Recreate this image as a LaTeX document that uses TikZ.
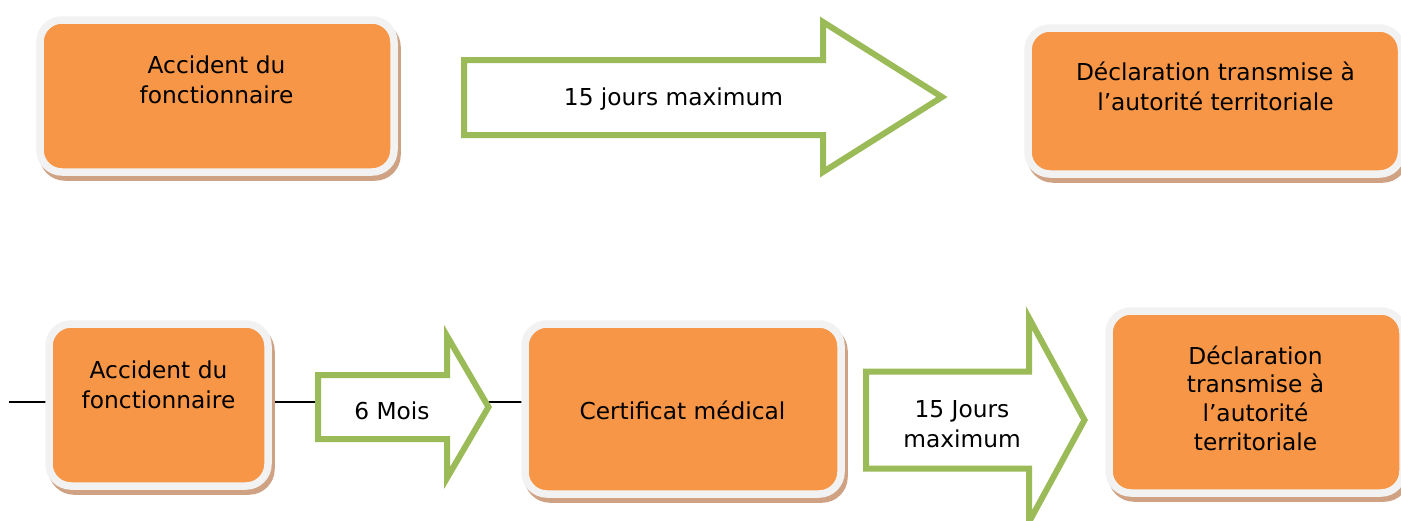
\documentclass[tikz,border=0pt]{standalone}
\usepackage{fontspec}
\setmainfont{DejaVu Sans}
\usetikzlibrary{backgrounds}
\definecolor{boxorange}{HTML}{F79646}
\definecolor{framegray}{HTML}{F2F2F2}
\definecolor{shadowtan}{RGB}{208,162,132}
\definecolor{arrowgreen}{HTML}{9BBB59}
\newcommand\txtfont{\fontsize{23.3}{30}\selectfont}
\newcommand\txtfontb{\fontsize{23.3}{28.7}\selectfont}
\newcommand\lines[1]{\begin{tabular}[t]{@{}c@{}}#1\end{tabular}}
\begin{document}
\begin{tikzpicture}[x=1pt,y=-1pt,
  panel/.style={draw=framegray, line width=7.5pt, fill=boxorange,
    rounded corners=22pt, inner sep=0pt, outer sep=0pt,
    preaction={draw=shadowtan, fill=shadowtan, line width=7.5pt,
      transform canvas={shift={(3pt,-5pt)}}}},
  bigarrow/.style={draw=arrowgreen, line width=6pt, fill=white, line join=miter},
  label/.style={font=\txtfont, text=black, anchor=base, inner sep=0pt},
  connector/.style={draw=black, line width=1.4pt}]

\useasboundingbox (0,0) rectangle (1401,520);
\begin{pgfonlayer}{background}
  \fill[white] (0,0) rectangle (1401,520);
\end{pgfonlayer}

% top row
\node[panel, minimum width=354pt, minimum height=152pt] (b1) at (217,96) {};
\node[label] (t1) at (216.5,73) {\lines{Accident du\\fonctionnaire}};

\draw[bigarrow] (464,60) -- (823,60) -- (823,22) -- (942,97) -- (823,172) -- (823,135) -- (464,135) -- cycle;
\node[label] (ta1) at (673.5,105) {15 jours maximum};

\node[panel, minimum width=373.5pt, minimum height=146pt] (b2) at (1214.75,101) {};
\node[label] (t2) at (1215.5,80) {\lines{Déclaration transmise à\\l’autorité territoriale}};

% bottom row
\coordinate (start) at (9,402);
\coordinate (a2w) at (318,402);
\coordinate (a2tip) at (488,402);

\node[panel, minimum width=219pt, minimum height=162pt] (b3) at (158.5,405) {};
\node[label] (t3) at (158.5,378) {\lines{Accident du\\fonctionnaire}};

\draw[bigarrow] (318,375) -- (447,375) -- (447,336) -- (488.5,407) -- (447,478) -- (447,439) -- (318,439) -- cycle;
\node[label] (ta2) at (392,419) {6 Mois};

\node[panel, minimum width=316pt, minimum height=170pt] (b4) at (683,409) {};
\node[label] (t4) at (682.5,419) {Certificat médical};

\draw[bigarrow] (866,371.5) -- (1029,371.5) -- (1029,318) -- (1084.5,420) -- (1029,522) -- (1029,468.5) -- (866,468.5) -- cycle;
\node[label] (ta3) at (962,417) {\lines{15 Jours\\maximum}};

\node[panel, minimum width=294pt, minimum height=182pt] (b5) at (1256,402) {};
\node[label, font=\txtfontb] (t5) at (1255.5,364) {\lines{Déclaration\\transmise à\\l’autorité\\territoriale}};

\begin{pgfonlayer}{background}
  \draw[connector] (start) -- (b3.west |- start);
  \draw[connector] (b3.east |- start) -- (a2w);
  \draw[connector] (a2tip) -- (b4.west |- start);
\end{pgfonlayer}
\end{tikzpicture}
\end{document}
